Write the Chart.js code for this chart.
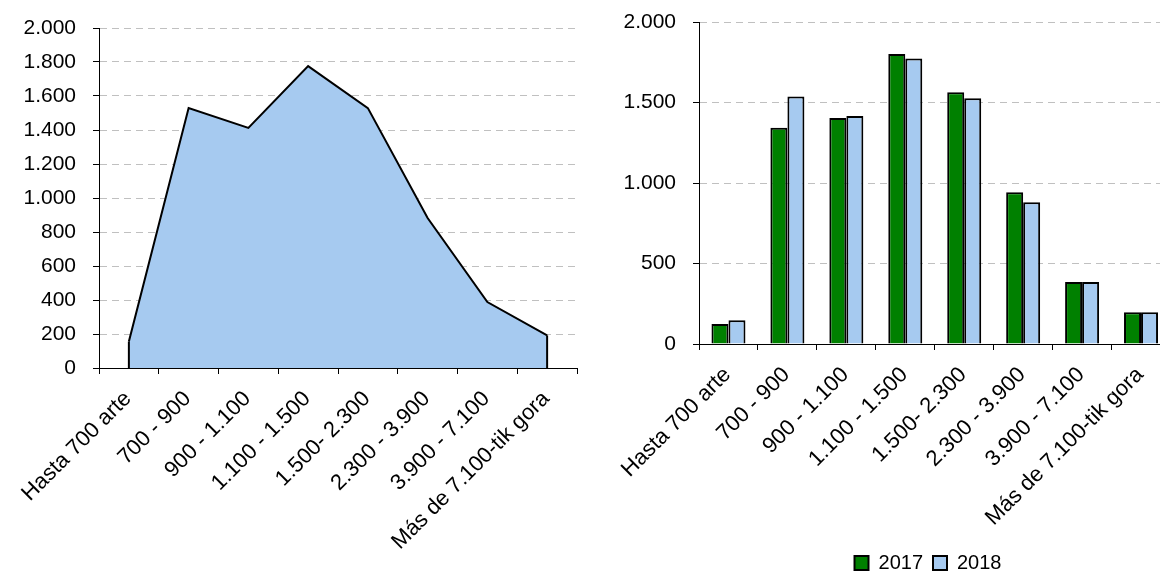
<!DOCTYPE html>
<html><head><meta charset="utf-8">
<script src="https://cdn.jsdelivr.net/npm/chart.js@4/dist/chart.umd.min.js"></script>
<style>
html,body{margin:0;padding:0;width:1160px;height:571px;overflow:hidden;background:#fff;}
#left{position:absolute;left:0;top:0;width:590px;height:571px;}
#right{position:absolute;left:580px;top:0;width:660px;height:583px;}
</style></head><body>
<div id="left"><canvas id="c1" width="590" height="571"></canvas></div>
<div id="right"><canvas id="c2" width="660" height="583"></canvas></div>
<script>
const categories = ['Hasta 700 arte', '700 - 900', '900 - 1.100', '1.100 - 1.500', '1.500- 2.300', '2.300 - 3.900', '3.900 - 7.100', 'Más de 7.100-tik gora'];
const areaValues = [156, 1529, 1412, 1776, 1529, 882, 388, 192];
const values2017 = [124, 1343, 1403, 1801, 1563, 942, 385, 197];
const values2018 = [147, 1538, 1416, 1774, 1526, 880, 385, 197];
const seriesNames = ['2017', '2018'];
const yTickLabelsLeft = ['0', '200', '400', '600', '800', '1.000', '1.200', '1.400', '1.600', '1.800', '2.000'];
const yTickLabelsRight = ['0', '500', '1.000', '1.500', '2.000'];

const FAMILY = '"Liberation Sans", Arial, sans-serif';
const Y_FONT = {family: FAMILY, size: 21};
const X_FONT = {family: FAMILY, size: 22};
const LEGEND_FONT = {family: FAMILY, size: 20};
Chart.defaults.font.family = FAMILY;
Chart.defaults.color = '#000';
Chart.defaults.animation = false;

const edgePlugin = {
  id: 'edges',
  afterDatasetsDraw(chart) {
    const meta = chart.getDatasetMeta(0);
    const y0 = chart.scales.y.getPixelForValue(0);
    const ctx = chart.ctx;
    ctx.save();
    ctx.strokeStyle = '#000';
    ctx.lineWidth = 2;
    [meta.data[0], meta.data[meta.data.length - 1]].forEach(p => {
      ctx.beginPath(); ctx.moveTo(p.x, p.y); ctx.lineTo(p.x, y0); ctx.stroke();
    });
    ctx.restore();
  }
};

const legendCenterPlugin = {
  id: 'legendCenter',
  afterLayout(chart, args, opts) {
    const lg = chart.legend;
    if (!lg) return;
    const shift = opts.centerX - (lg.left + lg.right) / 2;
    lg.left += shift;
    lg.right += shift;
  }
};

function xScale(height) {
  return {
    type: 'category',
    offset: true,
    grid: {offset: true, drawOnChartArea: false, drawTicks: true, tickLength: 6, color: '#000', tickColor: '#000', lineWidth: 1},
    border: {display: true, color: '#000', width: 1},
    ticks: {font: X_FONT, color: '#000', minRotation: 45, maxRotation: 45, autoSkip: false, padding: 12, labelOffset: -1},
    afterFit: s => { s.height = height; }
  };
}
function yScale(width, step, labels) {
  return {
    min: 0, max: 2000,
    grid: {color: '#c0c0c0', lineWidth: 1, tickColor: '#000', tickLength: 6, tickBorderDash: [], drawTicks: true},
    border: {display: true, color: '#000', width: 1, dash: [7, 5]},
    ticks: {font: Y_FONT, color: '#000', stepSize: step, padding: 17, callback: (v, i) => labels[i]},
    afterFit: s => { s.width = width; s.paddingTop = 0; s.paddingBottom = 0; }
  };
}

new Chart(document.getElementById('c1'), {
  type: 'line',
  data: {
    labels: categories,
    datasets: [{
      data: areaValues,
      fill: 'origin',
      backgroundColor: '#A6CAF0',
      borderColor: '#000',
      borderWidth: 2,
      pointRadius: 0,
      tension: 0
    }]
  },
  options: {
    responsive: false,
    layout: {padding: {top: 28, left: 0, right: 13, bottom: 0}},
    plugins: {legend: {display: false}, tooltip: {enabled: false}},
    scales: {x: xScale(203), y: yScale(99, 200, yTickLabelsLeft)}
  },
  plugins: [edgePlugin]
});

new Chart(document.getElementById('c2'), {
  type: 'bar',
  data: {
    labels: categories,
    datasets: [
      {label: seriesNames[0], data: values2017, backgroundColor: '#008000', borderColor: '#000', borderWidth: 2, barPercentage: 1, categoryPercentage: 0.577},
      {label: seriesNames[1], data: values2018, backgroundColor: '#A6CAF0', borderColor: '#000', borderWidth: 2, barPercentage: 1, categoryPercentage: 0.577}
    ]
  },
  options: {
    responsive: false,
    layout: {padding: {top: 22, left: 0, right: 69.5, bottom: 0}},
    plugins: {
      legend: {
        display: true, position: 'bottom',
        labels: {font: LEGEND_FONT, color: '#000', boxWidth: 14, boxHeight: 14, padding: 10}
      },
      legendCenter: {centerX: 348},
      tooltip: {enabled: false}
    },
    scales: {x: xScale(199), y: yScale(119, 500, yTickLabelsRight)}
  },
  plugins: [legendCenterPlugin]
});
</script>
</body></html>
